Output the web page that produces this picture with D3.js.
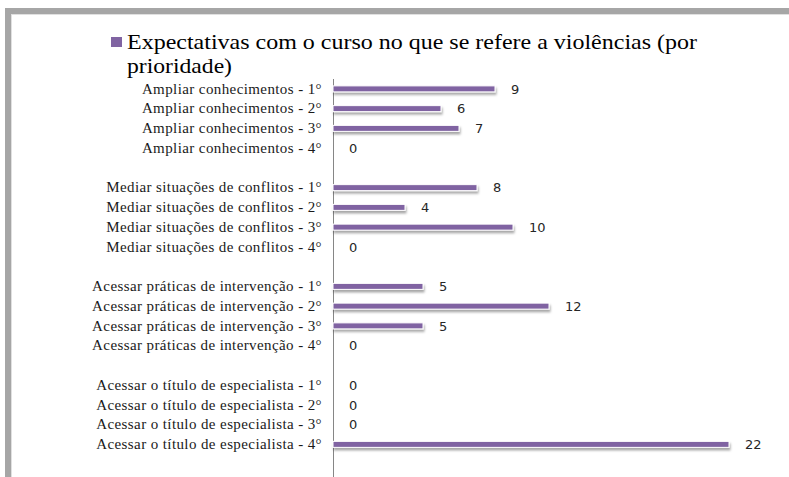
<!DOCTYPE html>
<html>
<head>
<meta charset="utf-8">
<script src="https://cdn.jsdelivr.net/npm/d3@7"></script>
<style>
  body { margin: 0; background: #fff; }
  svg { display: block; }
</style>
</head>
<body>
<div id="chart"></div>
<script>
var categories = [
    "Ampliar conhecimentos - 1°",
    "Ampliar conhecimentos - 2°",
    "Ampliar conhecimentos - 3°",
    "Ampliar conhecimentos - 4°",
    "",
    "Mediar situações de conflitos - 1°",
    "Mediar situações de conflitos - 2°",
    "Mediar situações de conflitos - 3°",
    "Mediar situações de conflitos - 4°",
    " ",
    "Acessar práticas de intervenção - 1°",
    "Acessar práticas de intervenção - 2°",
    "Acessar práticas de intervenção - 3°",
    "Acessar práticas de intervenção - 4°",
    "  ",
    "Acessar o título de especialista - 1°",
    "Acessar o título de especialista - 2°",
    "Acessar o título de especialista - 3°",
    "Acessar o título de especialista - 4°",
    "   "
];
var values = [9, 6, 7, 0, null, 8, 4, 10, 0, null, 5, 12, 5, 0, null, 0, 0, 0, 22, null];
var seriesName = "Expectativas com o curso no que se refere a violências (por";
var seriesName2 = "prioridade)";

const W = 789, H = 477;
const axisX = 333;
const serif = "Liberation Serif, Times New Roman, serif";

var svg = d3.select("#chart").append("svg")
    .attr("width", W)
    .attr("height", H);

// shadow under bars
var defs = svg.append("defs");
var f = defs.append("filter").attr("id", "shadow")
    .attr("x", "-5%").attr("y", "-50%").attr("width", "110%").attr("height", "250%");
f.append("feDropShadow")
    .attr("dx", 1).attr("dy", 2.5)
    .attr("stdDeviation", 1.2)
    .attr("flood-color", "#000").attr("flood-opacity", 0.35);

// frame
svg.append("rect")
    .attr("x", 8).attr("y", 11)
    .attr("width", W + 20).attr("height", H + 20)
    .attr("fill", "none")
    .attr("stroke", "#a6a6a6")
    .attr("stroke-width", 6);
svg.append("rect")
    .attr("x", 11.5).attr("y", 14.5)
    .attr("width", W + 20).attr("height", H + 20)
    .attr("fill", "none")
    .attr("stroke", "#e0e0e0")
    .attr("stroke-width", 1);

// title / legend
svg.append("rect")
    .attr("x", 111).attr("y", 37)
    .attr("width", 11).attr("height", 10)
    .attr("fill", "#8064a2");
svg.append("text")
    .attr("x", 127).attr("y", 49)
    .attr("font-family", serif)
    .style("font-size", "21px")
    .attr("textLength", 570)
    .attr("lengthAdjust", "spacingAndGlyphs")
    .attr("fill", "#000")
    .text(seriesName);
svg.append("text")
    .attr("x", 127).attr("y", 73)
    .attr("font-family", serif)
    .style("font-size", "21px")
    .attr("textLength", 105)
    .attr("lengthAdjust", "spacingAndGlyphs")
    .attr("fill", "#000")
    .text(seriesName2);

// scales
const yScale = d3.scaleBand()
    .domain(categories)
    .range([79, 79 + 19.75 * categories.length]);

const xScale = d3.scaleLinear()
    .domain([0, 22])
    .range([axisX, 729]);

// axis
var yAxis = svg.append("g")
    .attr("transform", "translate(" + axisX + ",0)")
    .call(d3.axisLeft(yScale).tickSize(0).tickPadding(11));
yAxis.select(".domain").attr("stroke", "#868686").attr("d", "M0.5," + 79 + "V" + H);
yAxis.selectAll("text")
    .attr("font-family", serif)
    .style("font-size", "15px")
    .style("letter-spacing", "0.4px")
    .attr("fill", "#1a1a1a");

var rows = categories.map(function(c, i) { return {cat: c, v: values[i]}; })
    .filter(function(d) { return d.v !== null; });

const barH = 6;

svg.selectAll(".bar")
    .data(rows.filter(function(d) { return d.v > 0; }))
    .enter().append("rect")
    .attr("class", "bar")
    .attr("x", xScale(0))
    .attr("y", function(d) { return yScale(d.cat) + yScale.bandwidth() / 2 - barH / 2; })
    .attr("width", function(d) { return xScale(d.v) - xScale(0); })
    .attr("height", barH)
    .attr("fill", "#8064a2")
    .attr("stroke", "#fff")
    .attr("stroke-width", 1)
    .attr("filter", "url(#shadow)");

svg.selectAll(".lbl")
    .data(rows)
    .enter().append("text")
    .attr("class", "lbl")
    .attr("x", function(d) { return xScale(d.v) + 16; })
    .attr("y", function(d) { return yScale(d.cat) + yScale.bandwidth() / 2; })
    .attr("dy", "0.36em")
    .attr("font-family", "DejaVu Sans, sans-serif")
    .style("font-size", "13px")
    .attr("fill", "#262626")
    .text(function(d) { return d.v; });
</script>
</body>
</html>
